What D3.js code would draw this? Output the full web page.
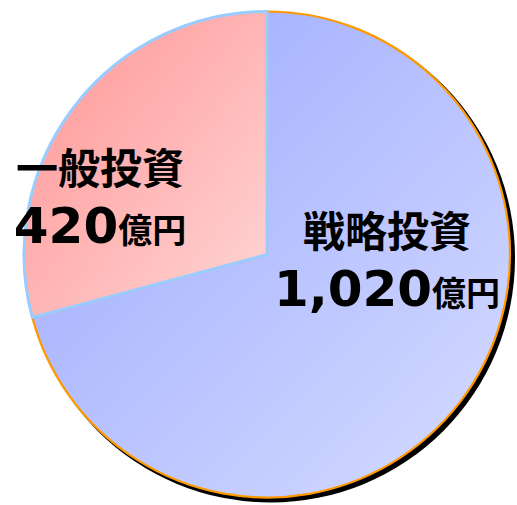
<!DOCTYPE html>
<html><head><meta charset="utf-8">
<script src="https://cdn.jsdelivr.net/npm/d3@7"></script>
<style>html,body{margin:0;padding:0;background:#fff;}svg{display:block;}</style>
</head><body>
<svg id="chart" width="517" height="505"></svg>
<script>
// Data
const categories = ["戦略投資", "一般投資"];
const values = [1020, 420];
const valueLabels = ["1,020", "420"];
const unit = "億円";

const svg = d3.select("#chart");
const cx = 267, cy = 254.5, R = 243;

const defs = svg.append("defs");
const gradStops = [["#9aa8ff", "#d6dcff"], ["#ff9494", "#ffd6d6"]];
gradStops.forEach((s, i) => {
  const g = defs.append("linearGradient").attr("id", "g" + i)
    .attr("x1", 0).attr("y1", 0).attr("x2", 1).attr("y2", 1);
  g.append("stop").attr("offset", "0%").attr("stop-color", s[0]);
  g.append("stop").attr("offset", "100%").attr("stop-color", s[1]);
});
defs.append("filter").attr("id", "blur").append("feGaussianBlur").attr("stdDeviation", 0.5);

const root = svg.append("g").attr("transform", `translate(${cx},${cy})`);

// shadow
root.append("circle").attr("cx", 3.5).attr("cy", 3.5).attr("r", R + 1.5)
  .attr("fill", "#000").attr("filter", "url(#blur)");

const pie = d3.pie().sort(null).value(d => d).startAngle(0).endAngle(2 * Math.PI);
const arcs = pie(values);
const arc = d3.arc().innerRadius(0).outerRadius(R);
const strokes = ["#ff9900", "#99ccff"];
const widths = [2.2, 3];

root.selectAll("path.slice").data(arcs).join("path")
  .attr("class", "slice")
  .attr("d", arc)
  .attr("fill", (d, i) => `url(#g${i})`)
  .attr("stroke", (d, i) => strokes[i])
  .attr("stroke-width", (d, i) => widths[i])
  .attr("stroke-linejoin", "round");

// labels (offsets relative to pie center)
const labelPos = [
  { x: 120, y1: -8, y2: 51 },
  { x: -167, y1: -71, y2: -12 }
];
const cjk = "'Noto Sans CJK JP', 'Noto Sans CJK SC', sans-serif";
arcs.forEach((d, i) => {
  const p = labelPos[i];
  root.append("text")
    .attr("x", p.x).attr("y", p.y1)
    .attr("text-anchor", "middle")
    .style("font-family", cjk).style("font-weight", "bold")
    .style("font-size", "42px").attr("fill", "#000")
    .text(categories[i]);
  const t = root.append("text")
    .attr("x", p.x).attr("y", p.y2)
    .attr("text-anchor", "middle").attr("fill", "#000");
  t.append("tspan")
    .style("font-family", "'DejaVu Sans', Verdana, sans-serif").style("font-weight", "bold")
    .style("font-size", "50px").text(valueLabels[i]);
  t.append("tspan")
    .style("font-family", cjk).style("font-weight", "bold")
    .style("font-size", "34px").text(unit);
});
</script>
</body></html>
